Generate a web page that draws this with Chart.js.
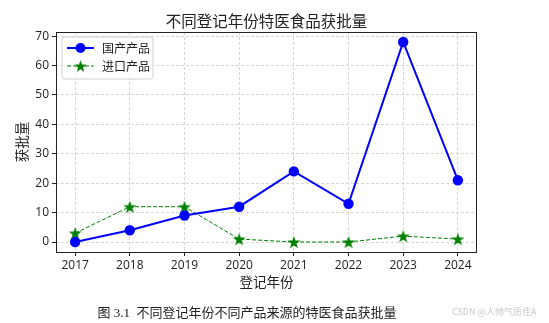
<!DOCTYPE html>
<html><head><meta charset="utf-8">
<script src="https://cdn.jsdelivr.net/npm/chart.js@4"></script>
<style>
html,body{margin:0;padding:0;background:#fff;}
#wrap{position:relative;width:549px;height:323px;}
#c{position:absolute;left:0;top:0;}
#cap{position:absolute;left:0;width:494px;top:302px;text-align:center;font-family:"Liberation Serif","Noto Sans CJK SC",serif;font-size:13px;color:#222;}
#wm{position:absolute;left:452px;top:305px;font-family:"Noto Sans CJK SC",sans-serif;font-size:9px;color:#c8c8c8;white-space:nowrap;}
</style></head><body>
<div id="wrap">
<canvas id="c" width="549" height="323"></canvas>
<div id="cap">图 3.1&nbsp; 不同登记年份不同产品来源的特医食品获批量</div>
<div id="wm">CSDN @人帅气质佳A</div>
</div>
<script>
const years = [2017, 2018, 2019, 2020, 2021, 2022, 2023, 2024];
const domestic = [0, 4, 9, 12, 24, 13, 68, 21];
const imported = [3, 12, 12, 1, 0, 0, 2, 1];
const yTicks = [0, 10, 20, 30, 40, 50, 60, 70];
const seriesNames = ['国产产品', '进口产品'];
const chartTitle = '不同登记年份特医食品获批量';
const xTitle = '登记年份';
const yTitle = '获批量';

const CJK = '"Noto Sans CJK SC", "Noto Sans", sans-serif';
const NUM = '"Open Sans", "Noto Sans CJK SC", sans-serif';

function makeStar(r, color) {
  const size = Math.ceil(r * 2 + 2);
  const cv = document.createElement('canvas');
  cv.width = size; cv.height = size;
  const g = cv.getContext('2d');
  const cx = size / 2, cy = size / 2 + r * 0.1, ri = r * 0.4;
  g.beginPath();
  for (let i = 0; i < 10; i++) {
    const rad = i % 2 === 0 ? r : ri;
    const a = -Math.PI / 2 + i * Math.PI / 5;
    const px = cx + rad * Math.cos(a), py = cy + rad * Math.sin(a);
    if (i === 0) g.moveTo(px, py); else g.lineTo(px, py);
  }
  g.closePath();
  g.fillStyle = color; g.fill();
  return cv;
}
const star = makeStar(6.8, '#008000');
const starSmall = makeStar(6.5, '#008000');

const frame = {
  id: 'frame',
  afterDatasetsDraw(chart) {
    const {ctx, chartArea: a} = chart;
    ctx.save();
    ctx.strokeStyle = '#222'; ctx.lineWidth = 1;
    ctx.strokeRect(a.left + 0.5, a.top + 0.5, a.right - a.left - 1, a.bottom - a.top);
    ctx.fillStyle = '#222';
    ctx.font = '15.5px ' + CJK;
    ctx.textAlign = 'center'; ctx.textBaseline = 'middle';
    ctx.fillText(chartTitle, (a.left + a.right) / 2, 21);
    const lx = 62, ly = 37, lw = 91, lh = 42;
    ctx.fillStyle = 'rgba(255,255,255,0.8)';
    ctx.strokeStyle = '#d0d0d0';
    ctx.beginPath();
    ctx.roundRect(lx, ly, lw, lh, 3);
    ctx.fill(); ctx.stroke();
    let y1 = ly + 11;
    ctx.strokeStyle = '#0000ff'; ctx.lineWidth = 2; ctx.setLineDash([]);
    ctx.beginPath(); ctx.moveTo(lx + 5, y1); ctx.lineTo(lx + 32, y1); ctx.stroke();
    ctx.fillStyle = '#0000ff';
    ctx.beginPath(); ctx.arc(lx + 18.5, y1, 5, 0, Math.PI * 2); ctx.fill();
    ctx.fillStyle = '#222'; ctx.font = '12px ' + CJK; ctx.textAlign = 'left';
    ctx.fillText(seriesNames[0], lx + 40, y1);
    let y2 = ly + 29;
    ctx.strokeStyle = '#008000'; ctx.lineWidth = 1; ctx.setLineDash([4, 2]);
    ctx.beginPath(); ctx.moveTo(lx + 5, y2); ctx.lineTo(lx + 32, y2); ctx.stroke();
    ctx.setLineDash([]);
    ctx.drawImage(starSmall, lx + 18.5 - starSmall.width / 2, y2 - starSmall.height / 2);
    ctx.fillStyle = '#222';
    ctx.fillText(seriesNames[1], lx + 40, y2);
    ctx.restore();
  }
};

const gridOpts = {color: '#d6d6d6', tickLength: 4, tickColor: '#222', tickBorderDash: [], lineWidth: 1};

new Chart(document.getElementById('c'), {
  type: 'line',
  data: {
    datasets: [
      {
        label: seriesNames[0],
        data: years.map((x, i) => ({x, y: domestic[i]})),
        borderColor: '#0000ff', backgroundColor: '#0000ff',
        borderWidth: 2, pointRadius: 5.2, pointHoverRadius: 5.2,
        pointBackgroundColor: '#0000ff', pointBorderWidth: 0, tension: 0
      },
      {
        label: seriesNames[1],
        data: years.map((x, i) => ({x, y: imported[i]})),
        borderColor: '#008000', backgroundColor: '#008000',
        borderWidth: 1, borderDash: [4, 2], pointStyle: star,
        pointRadius: 7, tension: 0
      }
    ]
  },
  options: {
    responsive: false, animation: false, devicePixelRatio: 1,
    layout: {padding: {left: 0, right: 72, top: 32, bottom: 0}},
    plugins: {legend: {display: false}, tooltip: {enabled: false}},
    scales: {
      x: {
        type: 'linear', min: 2016.65, max: 2024.35,
        afterBuildTicks(s) { s.ticks = years.map(v => ({value: v})); },
        afterFit(s) { s.height = 71; },
        ticks: {color: '#222', font: {size: 12, family: NUM}, padding: 2, callback: v => String(v)},
        grid: gridOpts,
        border: {display: false, dash: [3, 2]},
        title: {display: true, text: xTitle, color: '#222', font: {size: 13.5, family: CJK}, padding: {top: 0, bottom: 33}}
      },
      y: {
        min: -3.4, max: 71.4,
        afterBuildTicks(s) { s.ticks = yTicks.map(v => ({value: v})); },
        afterFit(s) { s.width = 56; },
        ticks: {color: '#222', font: {size: 12, family: NUM}, padding: 3},
        grid: gridOpts,
        border: {display: false, dash: [3, 2]},
        title: {display: true, text: yTitle, color: '#222', font: {size: 13.5, family: CJK}, padding: {top: 14, bottom: 0}}
      }
    }
  },
  plugins: [frame]
});
</script>
</body></html>
